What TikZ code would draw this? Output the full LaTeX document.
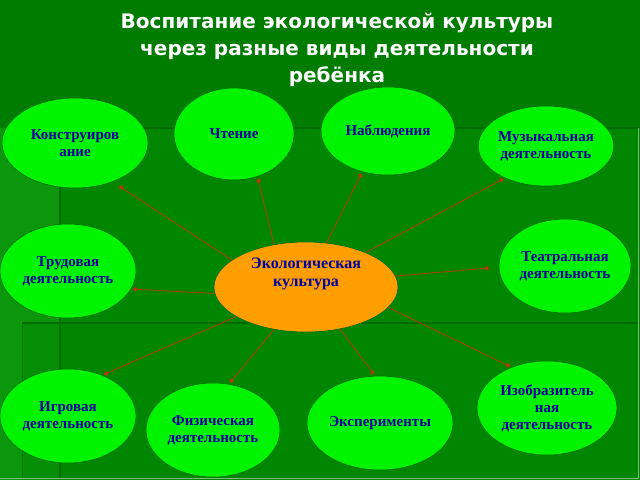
\documentclass[tikz,border=0pt]{standalone}
\usepackage{fontspec}
\setmainfont{Liberation Serif}
\newfontfamily\titlefont{DejaVu Sans}
\usepackage{xcolor}
\usepackage{tikz}
\usetikzlibrary{shapes.geometric,arrows.meta}
\definecolor{bgdark}{RGB}{0,124,0}
\definecolor{bgmid}{RGB}{0,134,0}
\definecolor{bglight}{RGB}{12,150,12}
\definecolor{bgline}{RGB}{0,108,0}
\definecolor{leafgreen}{RGB}{0,244,0}
\definecolor{sunorange}{RGB}{255,158,0}
\definecolor{inkblue}{RGB}{0,0,160}
\definecolor{rustred}{RGB}{190,55,10}

\begin{document}
\begin{tikzpicture}[x=1pt,y=-1pt,
    bubble/.style={ellipse,draw=bgline,line width=0.6pt,fill=leafgreen,inner sep=0pt,
        text=inkblue,align=center,font=\bfseries\fontsize{15}{17}\selectfont},
    hub/.style={bubble,fill=sunorange},
    link/.style={rustred,line width=0.8pt,-{Circle[length=4.5pt]},shorten >=2pt}]
    \useasboundingbox (0,0) rectangle (640,480);

    % Background
    \fill[bgdark] (0,0) rectangle (640,480);
    \fill[bgmid] (60,128) rectangle (640,480);
    \fill[bglight] (0,128) rectangle (60,480);
    \fill[bgmid!50!bglight] (22,323) rectangle (60,480);
    \draw[bgline,line width=1.5pt] (60,128) -- (640,128);
    \draw[bgline,line width=1.5pt] (60,128) -- (60,480);
    \draw[bgline,line width=1.5pt] (22,323) -- (640,323);
    \draw[bgline!70!bglight,line width=1pt] (22,323) -- (22,480);
    \draw[white!45!bgmid,line width=1pt] (638,128) -- (638,478) -- (0,478);

    % Title
    \node[text=white,align=center,font=\titlefont\bfseries\fontsize{20}{27}\selectfont]
        (title) at (337,50) {Воспитание экологической культуры\\через разные виды деятельности\\ребёнка};

    % Bubbles
    \node[hub,minimum width=184pt,minimum height=90pt] (eco) at (306,287) {};
    \node[text=inkblue,align=center,font=\bfseries\fontsize{16}{18}\selectfont]
        (ecotext) at (306,274) {Экологическая\\культура};
    \node[bubble,minimum width=146pt,minimum height=90pt] (constr) at (75,143) {Конструиров\\ание};
    \node[bubble,minimum width=120pt,minimum height=92pt] (read) at (234,134) {Чтение};
    \node[bubble,minimum width=134pt,minimum height=88pt] (watch) at (388,131) {Наблюдения};
    \node[bubble,minimum width=132pt,minimum height=80pt] (music) at (546,146) {Музыкальная\\деятельность};
    \node[bubble,minimum width=136pt,minimum height=94pt] (labour) at (68,271) {Трудовая\\деятельность};
    \node[bubble,minimum width=132pt,minimum height=94pt] (theatre) at (565,266) {Театральная\\деятельность};
    \node[bubble,minimum width=136pt,minimum height=94pt] (game) at (68,416) {Игровая\\деятельность};
    \node[bubble,minimum width=134pt,minimum height=94pt] (sport) at (213,430) {Физическая\\деятельность};
    \node[bubble,minimum width=146pt,minimum height=94pt] (exper) at (380,423) {Эксперименты};
    \node[bubble,minimum width=140pt,minimum height=94pt] (art) at (547,408) {Изобразитель\\ная\\деятельность};

    % Links
    \draw[link,shorten >=8pt] (eco.160) -- (constr.314);
    \draw[link] (eco.127) -- (read.299);
    \draw[link] (eco.65) -- (watch.238);
    \draw[link] (eco.30) -- (music.218);
    \draw[link] (eco.184) -- (labour.344);
    \draw[link,shorten >=10pt] (eco.7) -- (theatre.181);
    \draw[link] (eco.203) -- (game.50);
    \draw[link] (eco.233) -- (sport.71);
    \draw[link] (eco.309) -- (exper.96);
    \draw[link] (eco.346) -- (art.131);
\end{tikzpicture}
\end{document}
